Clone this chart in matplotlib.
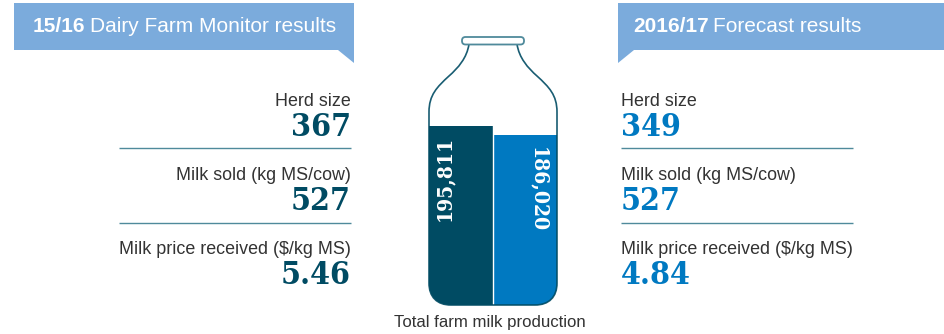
import matplotlib
matplotlib.use("Agg")
import matplotlib.pyplot as plt
from matplotlib.patches import PathPatch, Polygon, FancyBboxPatch
from matplotlib.path import Path

W, H = 944, 334
DARK = "#004b63"
BLUE = "#0079c1"
HEAD = "#7babdc"
RULE = "#4f8a9b"
SANS = "Liberation Sans"
NUM = "DejaVu Serif"

metric_names = ["Herd size", "Milk sold (kg MS/cow)", "Milk price received ($/kg MS)"]
values_1516 = ["367", "527", "5.46"]
values_1617 = ["349", "527", "4.84"]
production = [195811, 186020]
bar_colors = [DARK, BLUE]

label_y = [101, 176, 249]
value_y = [128, 202, 276]
rule_y = [147.5, 222.5]

fig = plt.figure(figsize=(W / 100, H / 100), dpi=100)
ax = fig.add_axes([0, 0, 1, 1])
ax.set_xlim(0, W)
ax.set_ylim(H, 0)
ax.axis("off")

# header banners with the little folded tail
ax.add_patch(Polygon([(14, 3), (354, 3), (354, 63), (338, 50), (14, 50)], fc=HEAD, ec="none"))
ax.add_patch(Polygon([(618, 3), (944, 3), (944, 50), (634, 50), (618, 63)], fc=HEAD, ec="none"))


def header(x, bold, rest):
    t = ax.text(x, 27, bold, color="white", fontsize=15, family=SANS, weight="bold", va="center")
    fig.canvas.draw()
    x1 = ax.transData.inverted().transform(t.get_window_extent().corners())[:, 0].max()
    ax.text(x1 + 4, 27, rest, color="white", fontsize=15, family=SANS, va="center")


header(33, "15/16", "Dairy Farm Monitor results")
header(633, "2016/17", "Forecast results")

# left and right stat columns
for i, name in enumerate(metric_names):
    ax.text(351, label_y[i], name, ha="right", va="center", fontsize=12.9, family=SANS, color="#333333")
    ax.text(351, value_y[i], values_1516[i], ha="right", va="center", fontsize=23, family=NUM,
            stretch="condensed", weight="bold", color=DARK)
    ax.text(621, label_y[i], name, ha="left", va="center", fontsize=12.9, family=SANS, color="#333333")
    ax.text(621, value_y[i], values_1617[i], ha="left", va="center", fontsize=23, family=NUM,
            stretch="condensed", weight="bold", color=BLUE)
for y in rule_y:
    ax.plot([119, 351], [y, y], color=RULE, lw=1, solid_capstyle="butt")
    ax.plot([621, 853], [y, y], color=RULE, lw=1, solid_capstyle="butt")

# bottle outline, used for the stroke and to clip the bars
verts = [(469, 44), (467, 58), (458, 68), (449, 76), (437, 87), (429, 95), (429, 112),
         (429, 283), (429, 297), (437, 305), (451, 305), (535, 305), (549, 305), (557, 297),
         (557, 283), (557, 112), (557, 95), (549, 87), (537, 76), (528, 68), (519, 58), (517, 44)]
codes = [Path.MOVETO, Path.CURVE4, Path.CURVE4, Path.CURVE4, Path.CURVE4, Path.CURVE4, Path.CURVE4,
         Path.LINETO, Path.CURVE4, Path.CURVE4, Path.CURVE4, Path.LINETO, Path.CURVE4, Path.CURVE4,
         Path.CURVE4, Path.LINETO, Path.CURVE4, Path.CURVE4, Path.CURVE4, Path.CURVE4, Path.CURVE4,
         Path.CURVE4]
bottle = Path(verts, codes)

# production bars on their own axes, zero at the bottle base
bar_ax = fig.add_axes([429 / W, 1 - 305 / H, 128 / W, 179 / H])
bar_ax.set_xlim(0, 2)
bar_ax.set_ylim(0, production[0])
bar_ax.axis("off")
bars = bar_ax.bar([0.5, 1.5], production, width=1, color=bar_colors)
for b in bars:
    b.set_clip_path(bottle, ax.transData)
bar_ax.axvline(1, color="white", lw=1)
bar_ax.patch.set_visible(False)

top_ax = fig.add_axes([0, 0, 1, 1], sharex=ax, sharey=ax)
top_ax.axis("off")
top_ax.add_patch(PathPatch(bottle, fc="none", ec=DARK, lw=1.2, alpha=0.9))
top_ax.add_patch(FancyBboxPatch((465.5, 40.5), 55, 0.5, boxstyle="round,pad=3.5,rounding_size=3.5",
                                fc="white", ec=RULE, lw=1.3))
top_ax.text(444, 178, f"{production[0]:,}", rotation=90, ha="center", va="center", color="white",
            fontsize=15, family=NUM, stretch="condensed", weight="bold")
top_ax.text(538, 190, f"{production[1]:,}", rotation=-90, ha="center", va="center", color="white",
            fontsize=15, family=NUM, stretch="condensed", weight="bold")
top_ax.text(489.5, 323, "Total farm milk production", ha="center", va="center", fontsize=12.05,
            family=SANS, color="#333333")

fig.savefig("out.png", dpi=100)
